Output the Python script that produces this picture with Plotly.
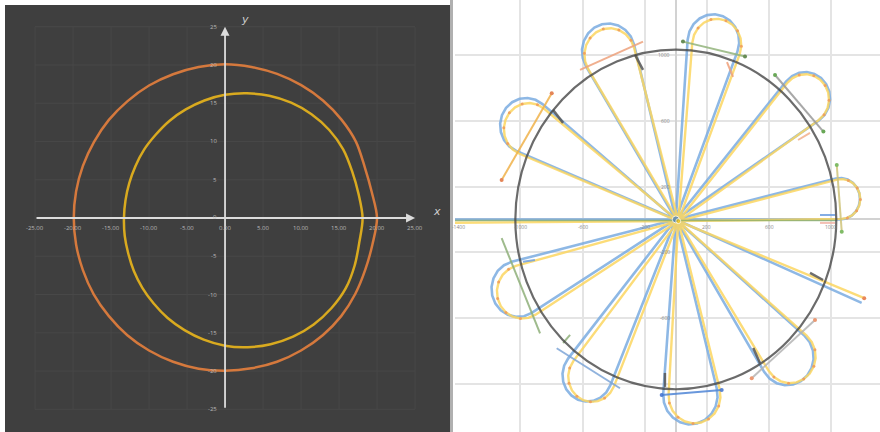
import numpy as np
import plotly.graph_objects as go

# ---------------- LEFT PANEL DATA ----------------
ang_deg = [0, 10, 20, 30, 40, 50, 60, 70, 80, 90, 100, 110, 120, 130, 140, 150, 160, 170,
           180, 190, 200, 210, 220, 230, 240, 250, 260, 270, 280, 290, 300, 310, 320, 330, 340, 350]
orange_r = [20.0, 19.6, 19.55, 19.9, 20.0, 20.05, 20.05, 20.05, 20.05, 20.1, 20.05, 20.0,
            20.0, 19.95, 19.95, 19.9, 19.9, 19.9, 19.9, 19.9, 19.9, 19.95, 19.95, 20.0,
            20.0, 20.0, 20.0, 19.95, 19.95, 20.0, 20.0, 20.0, 19.95, 19.8, 19.65, 19.7]
yellow_r = [18.1, 17.85, 17.8, 17.95, 17.9, 17.7, 17.4, 17.0, 16.55, 16.1, 15.6, 15.1,
            14.65, 14.2, 13.9, 13.6, 13.4, 13.3, 13.3, 13.4, 13.55, 13.85, 14.2, 14.6,
            15.1, 15.6, 16.15, 16.7, 17.15, 17.55, 17.9, 18.15, 18.3, 18.35, 18.15, 17.95]
left_ticks = [-25, -20, -15, -10, -5, 0, 5, 10, 15, 20, 25]
left_xtick_text = ['-25.00', '-20.00', '-15.00', '-10.00', '-5.00', '0.00',
                   '5.00', '10.00', '15.00', '20.00', '25.00']
left_ytick_text = ['-25', '-20', '-15', '-10', '-5', '0', '5', '10', '15', '20', '25']

# ---------------- RIGHT PANEL DATA ----------------
circle_r = 1032
right_xticks = [-1400, -1000, -600, -200, 200, 600, 1000]
right_yticks = [1000, 600, 200, -200, -600]
grid_x = [-1000, -600, -200, 200, 600, 1000]
grid_y = [-1000, -600, -200, 200, 600, 1000]

# petals: bisector angle (deg), loop-centre distance, loop radius
blue_phi = [6.8, 41.5, 77.4, 113.0, 149.3, 202.6, 239.0, 275.0, 310.5]
blue_D = [1066, 1111, 1108, 1110, 1120, 1100, 1105, 1075, 1100]
blue_rho = [126, 160, 166, 170, 167, 170, 160, 175, 172]
yellow_phi = [7.3, 42.2, 77.0, 113.6, 149.9, 203.2, 239.6, 275.6, 311.2]
yellow_D = [1058, 1102, 1100, 1102, 1112, 1092, 1097, 1068, 1092]
yellow_rho = [121, 153, 158, 163, 160, 163, 153, 167, 164]
yellow_origin = (16, -10)
# open spokes: angle, length
blue_open_phi = [180.0, 337.0]
blue_open_len = [1600, 1298]
yellow_open_phi = [180.4, 338.6]
yellow_open_len = [1600, 1284]

# short tangent segments near the circle crossings
seg_x0 = [-616, -262, 46, 329, 638, 786, 1035, 927, 927, -1120, -790, -1120, -983, -766, -725, -91, -70, 488, 498, 863]
seg_y0 = [909, 1000, 1081, 957, 878, 483, 331, 27, -21, 240, 666, -114, -257, -783, -751, -1067, -933, -965, -781, -325]
seg_x1 = [-211, -211, 445, 368, 949, 863, 1067, 1024, 1024, -798, -725, -873, -906, -359, -680, 295, -70, 895, 541, 947]
seg_y1 = [1081, 909, 990, 866, 534, 526, -74, 27, -21, 767, 587, -692, -246, -1026, -702, -1036, -1018, -611, -872, -368]
seg_color = ['#eea27c', '#555555', '#93b47c', '#f0a07a', '#9a9a9a', '#f3b08c', '#cfc47a', '#6f9fe0',
             '#f2b4a6', '#f0b24a', '#555555', '#8fb07a', '#6f9fe0', '#7ea6d8', '#8fb07a', '#4f86d6',
             '#555555', '#b5b5b5', '#555555', '#555555']
seg_width = [2, 2.5, 2, 2, 2, 2, 2, 2, 2, 2, 2.5, 2, 2, 2, 2, 2, 2.5, 2, 2.5, 2.5]
seg_mcolor = [None, None, '#4f7a3a', None, '#4f9a3a', None, '#6ab04c', None, None, '#e0703a',
              None, None, None, None, None, '#3d6fd0', None, '#e8875a', None, None]

# ---------------- FIGURE ----------------
fig = go.Figure()

# left grid
gx, gy = [], []
for v in left_ticks:
    gx += [v, v, None]; gy += [-25, 25, None]
    gx += [-25, 25, None]; gy += [v, v, None]
fig.add_trace(go.Scatter(x=gx, y=gy, mode='lines', line=dict(color='#484848', width=1),
                         xaxis='x', yaxis='y', hoverinfo='skip'))

th = np.deg2rad(np.array(ang_deg + [ang_deg[0]]))
ro = np.array(orange_r + [orange_r[0]])
ry = np.array(yellow_r + [yellow_r[0]])
fig.add_trace(go.Scatter(x=ro * np.cos(th), y=ro * np.sin(th), mode='lines',
                         line=dict(color='#d5793d', width=2.5, shape='spline', smoothing=0.9),
                         xaxis='x', yaxis='y'))
fig.add_trace(go.Scatter(x=ry * np.cos(th), y=ry * np.sin(th), mode='lines',
                         line=dict(color='#d9aa1f', width=2.5, shape='spline', smoothing=0.9),
                         xaxis='x', yaxis='y'))


# right paths
def petal_path(phi, D, rho, nseg=11):
    a0 = np.arccos(-rho / D)
    a = np.linspace(-a0, a0, nseg + 1)
    lx = D + rho * np.cos(a)
    ly = rho * np.sin(a)
    p = np.deg2rad(phi)
    x = lx * np.cos(p) - ly * np.sin(p)
    y = lx * np.sin(p) + ly * np.cos(p)
    return x, y


def build_path(phis, Ds, rhos, ophi, olen, org=(0.0, 0.0)):
    ox, oy = org
    items = [('p', phis[i], Ds[i], rhos[i]) for i in range(len(phis))]
    items += [('o', ophi[i], olen[i], 0) for i in range(len(ophi))]
    items.sort(key=lambda t: t[1])
    X, Y, MX, MY = [ox], [oy], [], []
    for kind, phi, D, rho in items:
        if kind == 'p':
            x, y = petal_path(phi, D, rho)
            x = x + ox; y = y + oy
            X += list(x) + [ox]; Y += list(y) + [oy]
            MX += list(x[1:-1:2]) + [None]; MY += list(y[1:-1:2]) + [None]
        else:
            p = np.deg2rad(phi)
            X += [ox + D * np.cos(p), ox]; Y += [oy + D * np.sin(p), oy]
    return X, Y, MX, MY


bx, by, bmx, bmy = build_path(blue_phi, blue_D, blue_rho, blue_open_phi, blue_open_len)
yx, yy, ymx, ymy = build_path(yellow_phi, yellow_D, yellow_rho, yellow_open_phi, yellow_open_len,
                              yellow_origin)

fig.add_trace(go.Scatter(x=bx, y=by, mode='lines', line=dict(color='rgba(122,172,224,0.85)', width=2.6),
                         xaxis='x2', yaxis='y2'))
fig.add_trace(go.Scatter(x=yx, y=yy, mode='lines', line=dict(color='rgba(252,214,96,0.85)', width=2.4),
                         xaxis='x2', yaxis='y2'))
fig.add_trace(go.Scatter(x=ymx, y=ymy, mode='markers', marker=dict(color='rgba(238,150,90,0.8)', size=3),
                         xaxis='x2', yaxis='y2'))
# green overlay along horizontal spoke
fig.add_trace(go.Scatter(x=[-1600, blue_D[0] * 0.97], y=[-6, -6], mode='lines',
                         line=dict(color='rgba(130,170,100,0.7)', width=1.4), xaxis='x2', yaxis='y2'))

for i in range(len(seg_x0)):
    mc = seg_mcolor[i]
    fig.add_trace(go.Scatter(x=[seg_x0[i], seg_x1[i]], y=[seg_y0[i], seg_y1[i]],
                             mode='lines+markers' if mc else 'lines',
                             line=dict(color=seg_color[i], width=seg_width[i]),
                             marker=dict(color=mc if mc else seg_color[i], size=4),
                             opacity=0.85, xaxis='x2', yaxis='y2'))
# end marker of open yellow spoke
pj = np.deg2rad(yellow_open_phi[1])
fig.add_trace(go.Scatter(x=[yellow_origin[0] + yellow_open_len[1] * np.cos(pj)],
                         y=[yellow_origin[1] + yellow_open_len[1] * np.sin(pj)],
                         mode='markers', marker=dict(color='#e8875a', size=4), xaxis='x2', yaxis='y2'))
fig.add_trace(go.Scatter(x=[0, yellow_origin[0]], y=[0, yellow_origin[1]], mode='markers',
                         marker=dict(color=['#3a78c8', '#f2c200'], size=[7, 5]), xaxis='x2', yaxis='y2'))

shapes = [
    dict(type='rect', xref='paper', yref='paper', x0=5 / 880, x1=450 / 880, y0=0, y1=427 / 432,
         fillcolor='#3f3f3f', line=dict(width=0), layer='below'),
    dict(type='rect', xref='paper', yref='paper', x0=450 / 880, x1=453 / 880, y0=0, y1=1,
         fillcolor='#b0b0b0', line=dict(width=0), layer='below'),
    dict(type='circle', xref='x2', yref='y2', x0=-circle_r, x1=circle_r, y0=-circle_r, y1=circle_r,
         line=dict(color='rgba(70,70,70,0.8)', width=2.2), layer='above'),
]

ann = []
# left axes with arrows
ann.append(dict(x=25, y=0, ax=-25, ay=0, xref='x', yref='y', axref='x', ayref='y', text='',
                showarrow=True, arrowhead=2, arrowsize=1, arrowwidth=1.8, arrowcolor='#dcdcdc', standoff=0))
ann.append(dict(x=0, y=25, ax=0, ay=-25, xref='x', yref='y', axref='x', ayref='y', text='',
                showarrow=True, arrowhead=2, arrowsize=1, arrowwidth=1.8, arrowcolor='#dcdcdc', standoff=0))
tf = dict(family='Open Sans, DejaVu Sans', size=6, color='#b8b8b8')
for v, t in zip(left_ticks, left_xtick_text):
    ann.append(dict(x=v, y=0, xref='x', yref='y', text=t, showarrow=False, yshift=-10, font=tf))
for v, t in zip(left_ticks, left_ytick_text):
    if v == 0:
        continue
    ann.append(dict(x=0, y=v, xref='x', yref='y', text=t, showarrow=False, xanchor='right', xshift=-6, font=tf))
ann.append(dict(x=0, y=0, xref='x', yref='y', text='0', showarrow=False, xanchor='right', xshift=-6, yshift=1, font=tf))
af = dict(family='DejaVu Sans', size=11, color='#cfcfcf')
ann.append(dict(x=27.9, y=0.9, xref='x', yref='y', text='<i>x</i>', showarrow=False, font=af))
ann.append(dict(x=2.6, y=25.9, xref='x', yref='y', text='<i>y</i>', showarrow=False, font=af))
# right tick labels
rf = dict(family='Open Sans, DejaVu Sans', size=5, color='#8a8a8a')
for v in right_xticks:
    ann.append(dict(x=v, y=0, xref='x2', yref='y2', text=str(v), showarrow=False, yshift=-8, font=rf))
for v in right_yticks:
    ann.append(dict(x=0, y=v, xref='x2', yref='y2', text=str(v), showarrow=False, xanchor='right', xshift=-4, font=rf))

fig.update_layout(
    width=880, height=432, margin=dict(l=0, r=0, t=0, b=0),
    paper_bgcolor='white', plot_bgcolor='rgba(0,0,0,0)', showlegend=False,
    shapes=shapes, annotations=ann,
    xaxis=dict(domain=[5 / 880, 450 / 880], range=[-28.95, 29.6], visible=False, anchor='y'),
    yaxis=dict(domain=[0, 427 / 432], range=[-27.97, 27.84], visible=False, anchor='x'),
    xaxis2=dict(domain=[455 / 880, 1], range=[-1420, 1313], tickvals=grid_x, showgrid=True,
                gridcolor='#e4e4e4', gridwidth=2, showticklabels=False, zeroline=True,
                zerolinecolor='#d2d2d2', zerolinewidth=1.5, anchor='y2', showline=False, ticks=''),
    yaxis2=dict(domain=[0, 1], range=[-1292, 1334], tickvals=grid_y, showgrid=True,
                gridcolor='#e4e4e4', gridwidth=2, showticklabels=False, zeroline=True,
                zerolinecolor='#d2d2d2', zerolinewidth=1.5, anchor='x2', showline=False, ticks=''),
)
fig.write_html('out.html')
